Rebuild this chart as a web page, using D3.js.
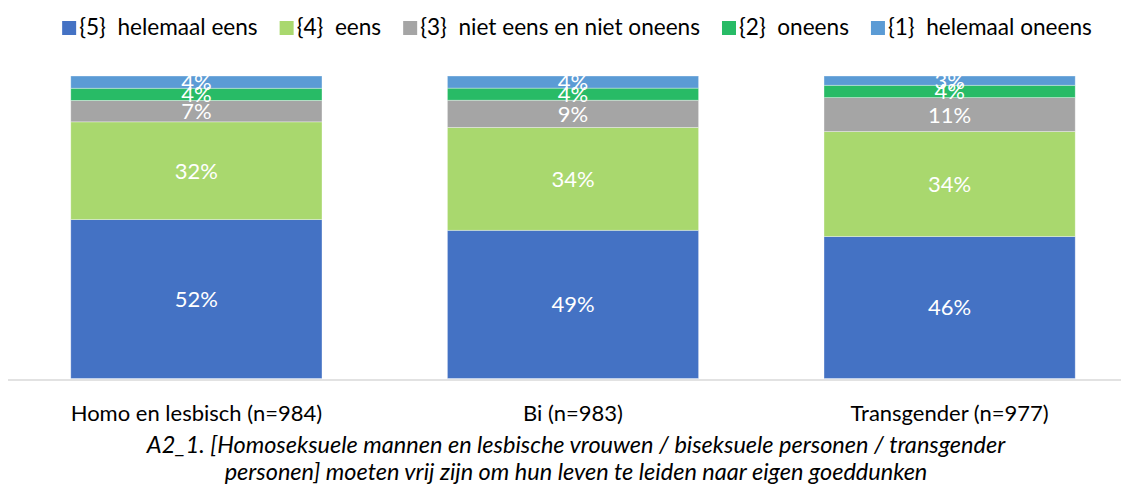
<!DOCTYPE html>
<html>
<head>
<meta charset="utf-8">
<script src="https://cdn.jsdelivr.net/npm/d3@7"></script>
<style>
  html, body { margin: 0; padding: 0; background: #fff; }
  svg { display: block; font-family: Lato, "Open Sans", sans-serif; }
</style>
</head>
<body>
<div id="chart"></div>
<script>
// categories and answer levels
const groups = ['Homo en lesbisch (n=984)', 'Bi (n=983)', 'Transgender (n=977)'];
const levels = ['{5}  helemaal eens', '{4}  eens', '{3}  niet eens en niet oneens', '{2}  oneens', '{1}  helemaal oneens'];
const colors = ['#4472C4', '#A9D86E', '#A5A5A5', '#28BB66', '#5B9BD5'];

// percentages per level, in group order
const eens5 = [52, 49, 46];
const eens4 = [32, 34, 34];
const neutral3 = [7, 9, 11];
const oneens2 = [4, 4, 4];
const oneens1 = [4, 4, 3];

const titleLines = [
  'A2_1. [Homoseksuele mannen en lesbische vrouwen / biseksuele personen / transgender',
  'personen] moeten vrij zijn om hun leven te leiden naar eigen goeddunken'
];

const width = 1129, height = 487;
const margin = { top: 76, right: -9, bottom: 108, left: 8 };

const svg = d3.select('#chart').append('svg')
  .attr('width', width)
  .attr('height', height);

const rows = groups.map((g, i) => ({
  group: g,
  [levels[0]]: eens5[i],
  [levels[1]]: eens4[i],
  [levels[2]]: neutral3[i],
  [levels[3]]: oneens2[i],
  [levels[4]]: oneens1[i]
}));

// 100% stacked, like the original
const series = d3.stack().keys(levels).offset(d3.stackOffsetExpand)(rows);

const x = d3.scaleBand()
  .domain(groups)
  .range([margin.left, width - margin.right])
  .paddingInner(0.333)
  .paddingOuter(0.1667);

const y = d3.scaleLinear()
  .domain([0, 1])
  .range([height - margin.bottom - 0.5, margin.top]);

const color = d3.scaleOrdinal().domain(levels).range(colors);

const layer = svg.append('g').selectAll('g')
  .data(series)
  .join('g')
  .attr('fill', d => color(d.key));

layer.selectAll('rect')
  .data(d => d)
  .join('rect')
  .attr('x', d => x(d.data.group))
  .attr('width', x.bandwidth())
  .attr('y', d => y(d[1]))
  .attr('height', d => y(d[0]) - y(d[1]))
  .attr('stroke', 'rgba(255,255,255,0.45)')
  .attr('stroke-width', 0.75);

// value labels, centred in each segment
const labels = svg.append('g')
  .attr('fill', '#fff')
  .attr('font-size', 22)
  .attr('text-anchor', 'middle');

series.forEach(s => {
  labels.selectAll(null)
    .data(s)
    .join('text')
    .attr('x', d => x(d.data.group) + x.bandwidth() / 2)
    .attr('y', d => (y(d[0]) + y(d[1])) / 2)
    .attr('dy', '0.36em')
    .text(d => d.data[s.key] + '%');
});

// category axis
const xAxis = svg.append('g')
  .attr('transform', `translate(0,${height - margin.bottom + 1})`)
  .call(d3.axisBottom(x).tickSize(0).tickPadding(41));
xAxis.select('.domain')
  .attr('d', `M8,0H1121`)
  .attr('stroke', '#d9d9d9')
  .attr('stroke-width', 1.3);
xAxis.selectAll('text')
  .attr('font-family', 'Lato, "Open Sans", sans-serif')
  .attr('font-size', 22)
  .attr('fill', '#000')
  .attr('dy', 0);

// legend, laid out left to right and centred
const legend = svg.append('g').attr('font-size', 22.6).attr('fill', '#000');
const items = legend.selectAll('g')
  .data(levels)
  .join('g');
items.append('rect')
  .attr('width', 14).attr('height', 14)
  .attr('y', 21)
  .attr('fill', d => color(d));
items.append('text')
  .attr('x', 17)
  .attr('y', 35)
  .style('white-space', 'pre')
  .text(d => d);
let offset = 0;
items.each(function () {
  const w = this.querySelector('text').getComputedTextLength() + 17;
  d3.select(this).attr('transform', `translate(${offset},0)`);
  offset += w + 22;
});
legend.attr('transform', `translate(${577 - (offset - 22) / 2},0)`);

// caption under the axis
svg.append('g')
  .attr('font-size', 23.5)
  .attr('font-style', 'italic')
  .attr('text-anchor', 'middle')
  .selectAll('text')
  .data(titleLines)
  .join('text')
  .attr('x', 576)
  .attr('y', (d, i) => 453 + i * 27)
  .text(d => d);
</script>
</body>
</html>
